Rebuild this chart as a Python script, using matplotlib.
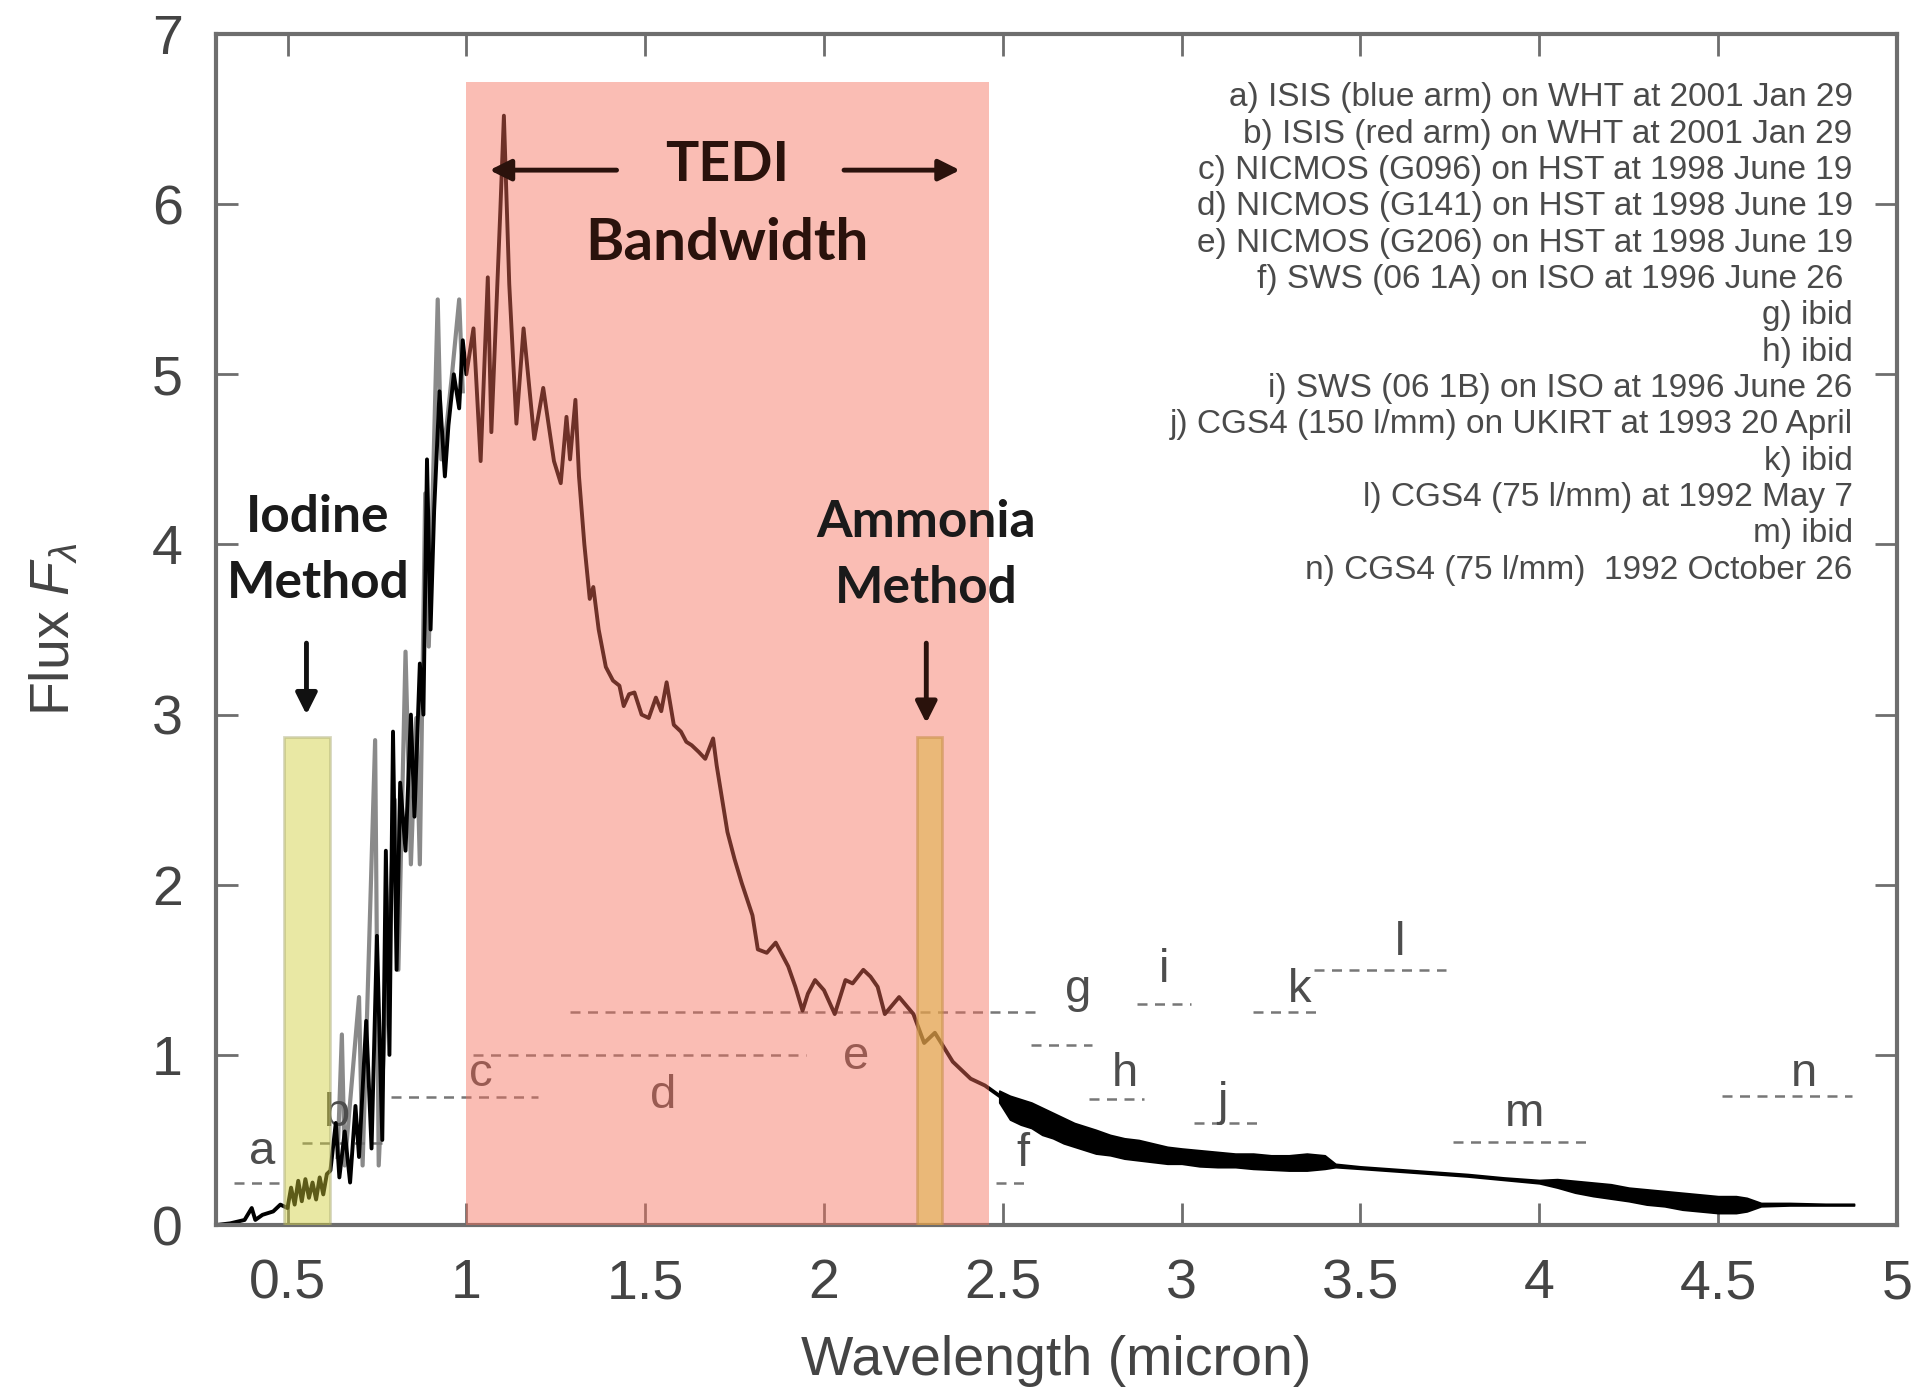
import matplotlib
matplotlib.use("Agg")
import matplotlib.pyplot as plt
from matplotlib.patches import Rectangle

plt.rcParams["font.family"] = ["Liberation Sans", "DejaVu Sans"]
plt.rcParams["mathtext.fontset"] = "custom"
plt.rcParams["mathtext.it"] = "Liberation Sans:italic"
plt.rcParams["mathtext.rm"] = "Liberation Sans"

# --- spectrum ---
# short-wavelength part (black trace, incl. the iodine window and the TEDI band)
main_x = [0.30, 0.34, 0.38, 0.40, 0.41, 0.43, 0.46, 0.48, 0.50, 0.51, 0.52, 0.53, 0.54, 0.55,
          0.56, 0.57, 0.58, 0.59, 0.60, 0.61, 0.62, 0.635, 0.645, 0.66, 0.675, 0.69, 0.70,
          0.72, 0.735, 0.75, 0.765, 0.775, 0.785, 0.795, 0.805, 0.815, 0.83, 0.845, 0.855,
          0.87, 0.88, 0.89, 0.90, 0.91, 0.925, 0.94, 0.95, 0.965, 0.98, 0.99, 1.0,
          1.02, 1.04, 1.06, 1.07, 1.095, 1.105, 1.12, 1.14, 1.16, 1.19, 1.215, 1.245,
          1.264, 1.28, 1.29, 1.305, 1.315, 1.33, 1.345, 1.355, 1.37, 1.39, 1.41, 1.428,
          1.44, 1.455, 1.47, 1.49, 1.51, 1.53, 1.545, 1.56, 1.58, 1.60, 1.615, 1.63,
          1.65, 1.668, 1.69, 1.70, 1.73, 1.75, 1.77, 1.80, 1.815, 1.84, 1.865, 1.89,
          1.90, 1.92, 1.94, 1.955, 1.975, 2.00, 2.03, 2.06, 2.08, 2.11, 2.13, 2.15, 2.17,
          2.21, 2.25, 2.28, 2.31, 2.36, 2.41, 2.45, 2.49]
main_y = [0.00, 0.01, 0.03, 0.10, 0.03, 0.06, 0.08, 0.12, 0.10, 0.22, 0.12, 0.26, 0.14, 0.27,
          0.16, 0.25, 0.15, 0.28, 0.18, 0.30, 0.32, 0.60, 0.28, 0.55, 0.25, 0.70, 0.40,
          1.20, 0.45, 1.70, 0.50, 2.20, 1.00, 2.90, 1.50, 2.60, 2.20, 3.00, 2.40,
          3.30, 3.00, 4.50, 3.50, 4.20, 4.90, 4.40, 4.70, 5.00, 4.80, 5.20, 5.00,
          5.27, 4.49, 5.57, 4.66, 5.96, 6.52, 5.53, 4.71, 5.27, 4.62, 4.92, 4.49,
          4.36, 4.75, 4.50, 4.85, 4.40, 4.00, 3.68, 3.75, 3.50, 3.28, 3.20, 3.17,
          3.05, 3.12, 3.13, 3.00, 2.98, 3.10, 3.02, 3.19, 2.94, 2.90, 2.84, 2.82,
          2.78, 2.74, 2.86, 2.70, 2.31, 2.15, 2.01, 1.82, 1.62, 1.60, 1.66, 1.56,
          1.52, 1.40, 1.26, 1.36, 1.44, 1.38, 1.24, 1.44, 1.42, 1.50, 1.46, 1.40, 1.24,
          1.34, 1.24, 1.07, 1.13, 0.96, 0.86, 0.82, 0.76]

# overlapping gray segment in the 0.6-1.0 micron region
gray_x = [0.64, 0.652, 0.66, 0.70, 0.71, 0.745, 0.755, 0.80, 0.81, 0.83, 0.845, 0.86,
          0.87, 0.885, 0.895, 0.92, 0.93, 0.945, 0.96, 0.98, 0.99]
gray_y = [0.40, 1.12, 0.35, 1.34, 0.35, 2.85, 0.35, 2.50, 1.50, 3.37, 2.12, 2.98,
          2.12, 4.30, 3.40, 5.44, 4.50, 4.70, 5.00, 5.44, 4.90]

# noisy long-wavelength tail: upper and lower edge of the noise band
tail_x = [2.49, 2.52, 2.55, 2.58, 2.61, 2.64, 2.67, 2.70, 2.73, 2.76,
          2.80, 2.84, 2.88, 2.92, 2.96, 3.00, 3.05, 3.10, 3.15, 3.20,
          3.25, 3.30, 3.35, 3.40, 3.43, 3.50, 3.60, 3.70, 3.80, 3.90,
          4.00, 4.05, 4.10, 4.15, 4.20, 4.25, 4.30, 4.35, 4.40, 4.45,
          4.50, 4.55, 4.58, 4.62, 4.70, 4.80, 4.88]
tail_hi = [0.79, 0.76, 0.74, 0.72, 0.69, 0.66, 0.63, 0.60, 0.58, 0.56,
           0.53, 0.51, 0.50, 0.48, 0.46, 0.45, 0.44, 0.43, 0.42, 0.42,
           0.41, 0.41, 0.42, 0.41, 0.36, 0.345, 0.33, 0.315, 0.30, 0.28,
           0.265, 0.27, 0.26, 0.25, 0.24, 0.22, 0.21, 0.20, 0.19, 0.18,
           0.17, 0.17, 0.16, 0.13, 0.13, 0.125, 0.125]
tail_lo = [0.72, 0.62, 0.59, 0.57, 0.53, 0.51, 0.48, 0.46, 0.44, 0.42,
           0.41, 0.39, 0.38, 0.37, 0.36, 0.36, 0.345, 0.34, 0.34, 0.33,
           0.325, 0.32, 0.32, 0.33, 0.34, 0.33, 0.315, 0.30, 0.285, 0.265,
           0.245, 0.22, 0.19, 0.17, 0.155, 0.14, 0.12, 0.11, 0.09, 0.08,
           0.07, 0.07, 0.08, 0.11, 0.115, 0.115, 0.115]

# instrument coverage segments (letter, x start, x end, flux level) and label spots
seg_names = ["a", "b", "c", "d", "e", "f", "g", "h", "i", "j", "k", "l", "m", "n"]
seg_x0 = [0.35, 0.54, 0.79, 1.02, 1.29, 2.48, 2.58, 2.74, 2.875, 3.035, 3.20, 3.37, 3.76, 4.51]
seg_x1 = [0.49, 0.77, 1.20, 1.95, 2.59, 2.58, 2.75, 2.895, 3.025, 3.21, 3.39, 3.74, 4.14, 4.875]
seg_y = [0.25, 0.48, 0.75, 1.00, 1.25, 0.25, 1.06, 0.74, 1.30, 0.60, 1.25, 1.50, 0.49, 0.76]
lab_x = [0.43, 0.635, 1.04, 1.55, 2.09, 2.555, 2.71, 2.84, 2.95, 3.115, 3.33, 3.61, 3.96, 4.74]
lab_y = [0.43, 0.65, 0.89, 0.76, 0.99, 0.42, 1.38, 0.89, 1.50, 0.72, 1.38, 1.66, 0.65, 0.89]

legend_lines = [
    "a) ISIS (blue arm) on WHT at 2001 Jan 29",
    "b) ISIS (red arm) on WHT at 2001 Jan 29",
    "c) NICMOS (G096) on HST at 1998 June 19",
    "d) NICMOS (G141) on HST at 1998 June 19",
    "e) NICMOS (G206) on HST at 1998 June 19",
    "f) SWS (06 1A) on ISO at 1996 June 26 ",
    "g) ibid",
    "h) ibid",
    "i) SWS (06 1B) on ISO at 1996 June 26",
    "j) CGS4 (150 l/mm) on UKIRT at 1993 20 April",
    "k) ibid",
    "l) CGS4 (75 l/mm) at 1992 May 7",
    "m) ibid",
    "n) CGS4 (75 l/mm)  1992 October 26",
]

# highlighted bands (x range, top)
tedi_band = (1.0, 2.46, 6.72)
iodine_band = (0.49, 0.62, 2.87)
ammonia_band = (2.26, 2.33, 2.87)

GRAY_TXT = "#4d4d4d"

fig = plt.figure(figsize=(19.30, 13.94), dpi=100)
ax = fig.add_axes([0.1119, 0.1212, 0.8710, 0.8544])

ax.plot(gray_x, gray_y, color="#8a8a8a", lw=3.0, zorder=2)
ax.plot(main_x, main_y, color="black", lw=2.8, zorder=2.2)
ax.fill_between(tail_x, tail_lo, tail_hi, color="black", lw=1.2, zorder=2.2)

for name, x0, x1, y, lx, ly in zip(seg_names, seg_x0, seg_x1, seg_y, lab_x, lab_y):
    ax.plot([x0, x1], [y, y], ls=(0, (4, 3)), color="#777777", lw=1.8, zorder=2)
    ax.text(lx, ly, name, fontsize=34, color=GRAY_TXT, ha="center", va="center", zorder=2)

# shaded windows drawn over the trace so it shows through tinted
x0, x1, top = tedi_band
ax.add_patch(Rectangle((x0, 0), x1 - x0, top, facecolor=(246/255, 110/255, 90/255),
                       alpha=0.45, lw=0, zorder=3))
x0, x1, top = iodine_band
ax.add_patch(Rectangle((x0, 0), x1 - x0, top, facecolor=(207/255, 204/255, 55/255),
                       alpha=0.45, edgecolor="#a8a870", lw=2, zorder=3.5))
x0, x1, top = ammonia_band
ax.add_patch(Rectangle((x0, 0), x1 - x0, top, facecolor=(222/255, 181/255, 71/255),
                       alpha=0.55, edgecolor="#c8904a", lw=2, zorder=3.5))

bold = dict(family=["Lato", "DejaVu Sans"], fontweight="bold", ha="center", va="center",
            zorder=6)
ax.text(0.585, 4.16, "Iodine", fontsize=37, color="#1a1a1a", **bold)
ax.text(0.585, 3.77, "Method", fontsize=37, color="#1a1a1a", **bold)
ax.text(2.286, 4.13, "Ammonia", fontsize=37, color="#1a1a1a", **bold)
ax.text(2.286, 3.74, "Method", fontsize=37, color="#1a1a1a", **bold)
ax.text(1.73, 6.23, "TEDI", fontsize=40, color="#2a120c", **bold)
ax.text(1.73, 5.77, "Bandwidth", fontsize=42, color="#2a120c", **bold)

arr = dict(arrowstyle="-|>", lw=3.5, mutation_scale=32, shrinkA=0, shrinkB=0)
ax.annotate("", xy=(0.553, 3.0), xytext=(0.553, 3.42),
            arrowprops=dict(color="#111111", **arr), zorder=6)
ax.annotate("", xy=(2.286, 2.95), xytext=(2.286, 3.42),
            arrowprops=dict(color="#2a120c", **arr), zorder=6)
ax.annotate("", xy=(1.065, 6.2), xytext=(1.42, 6.2),
            arrowprops=dict(color="#2a120c", **arr), zorder=6)
ax.annotate("", xy=(2.38, 6.2), xytext=(2.056, 6.2),
            arrowprops=dict(color="#2a120c", **arr), zorder=6)

# instrument key, right aligned
for i, line in enumerate(legend_lines):
    ax.text(4.876, 6.625 - i * 0.2135, line, fontsize=24, color="#4a4a4a",
            ha="right", va="center", zorder=6)

ax.set_xlim(0.30, 5.0)
ax.set_ylim(0, 7)
ax.set_xticks([0.5, 1, 1.5, 2, 2.5, 3, 3.5, 4, 4.5, 5])
ax.set_xticklabels(["0.5", "1", "1.5", "2", "2.5", "3", "3.5", "4", "4.5", "5"])
ax.set_yticks(range(0, 8))
ax.tick_params(direction="in", length=16, width=2, colors="#6e6e6e", labelcolor="#444444",
               labelsize=40, top=True, right=True, pad=24)
for sp in ax.spines.values():
    sp.set_color("#6e6e6e")
    sp.set_linewidth(3)

ax.set_xlabel("Wavelength (micron)", fontsize=40, color="#444444")
ax.set_ylabel(r"Flux $F_\lambda$", fontsize=40, color="#444444")
ax.xaxis.set_label_coords(0.5, -0.092)
ax.yaxis.set_label_coords(-0.080, 0.5)

fig.savefig("out.png", dpi=100)
